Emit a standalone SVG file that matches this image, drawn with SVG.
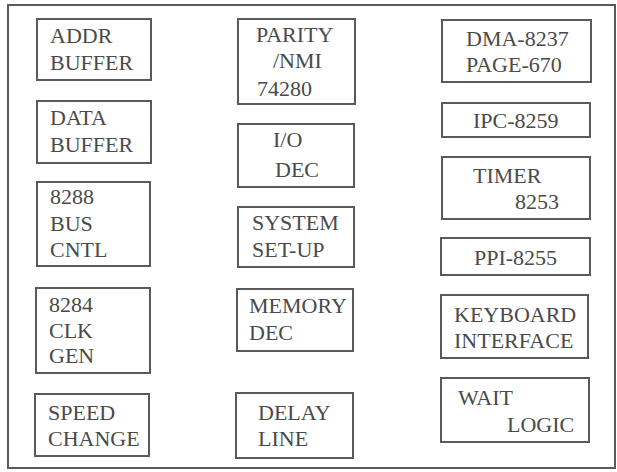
<svg xmlns="http://www.w3.org/2000/svg" width="617" height="472" viewBox="0 0 617 472">
<style>
.frame{fill:none;stroke:#5a5a5a;stroke-width:2}
.box{fill:none;stroke:#5a5a5a;stroke-width:2}
</style>
<rect width="617" height="472" fill="#ffffff"/>
<rect class="frame" x="8" y="5" width="607" height="463"/>
<g font-family="Liberation Serif, Times New Roman, serif" font-size="22" fill="#4a4a4a">
<g id="addr-buffer"><rect class="box" x="37" y="19" width="114" height="61"/><text x="50" y="43">ADDR</text><text x="50" y="70">BUFFER</text></g>
<g id="data-buffer"><rect class="box" x="37" y="101" width="114" height="62"/><text x="50" y="125">DATA</text><text x="50" y="152">BUFFER</text></g>
<g id="bus-cntl"><rect class="box" x="37" y="182" width="113" height="84"/><text x="50" y="204">8288</text><text x="50" y="231">BUS</text><text x="50" y="257">CNTL</text></g>
<g id="clk-gen"><rect class="box" x="36" y="288" width="114" height="85"/><text x="49" y="312">8284</text><text x="49" y="338">CLK</text><text x="49" y="363">GEN</text></g>
<g id="speed-change"><rect class="box" x="35" y="394" width="114" height="62"/><text x="48" y="420">SPEED</text><text x="48" y="446">CHANGE</text></g>
<g id="parity"><rect class="box" x="238" y="19" width="117" height="85"/><text x="256" y="42">PARITY</text><text x="273" y="68">/NMI</text><text x="257" y="96">74280</text></g>
<g id="io-dec"><rect class="box" x="238" y="124" width="116" height="63"/><text x="273" y="147">I/O</text><text x="275" y="177">DEC</text></g>
<g id="system-setup"><rect class="box" x="238" y="207" width="116" height="60"/><text x="252" y="230">SYSTEM</text><text x="252" y="257">SET-UP</text></g>
<g id="memory-dec"><rect class="box" x="237" y="289" width="116" height="62"/><text x="249" y="313">MEMORY</text><text x="249" y="340">DEC</text></g>
<g id="delay-line"><rect class="box" x="236" y="393" width="117" height="65"/><text x="258" y="420">DELAY</text><text x="258" y="446">LINE</text></g>
<g id="dma"><rect class="box" x="442" y="20" width="149" height="62"/><text x="466" y="46">DMA-8237</text><text x="466" y="72">PAGE-670</text></g>
<g id="ipc"><rect class="box" x="442" y="103" width="148" height="34"/><text x="473" y="128">IPC-8259</text></g>
<g id="timer"><rect class="box" x="442" y="157" width="148" height="62"/><text x="473" y="183">TIMER</text><text x="515" y="209">8253</text></g>
<g id="ppi"><rect class="box" x="441" y="238" width="149" height="37"/><text x="474" y="265">PPI-8255</text></g>
<g id="keyboard"><rect class="box" x="441" y="295" width="147" height="63"/><text x="454" y="322">KEYBOARD</text><text x="454" y="348">INTERFACE</text></g>
<g id="wait-logic"><rect class="box" x="441" y="378" width="148" height="64"/><text x="458" y="405">WAIT</text><text x="507" y="432">LOGIC</text></g>
</g>
<g id="connectors"></g>
</svg>
